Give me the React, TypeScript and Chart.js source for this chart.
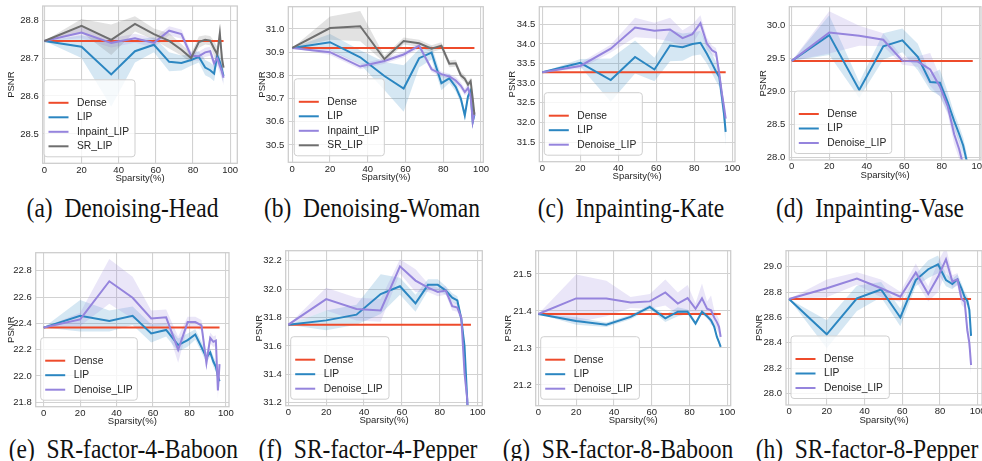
import React, { useEffect, useRef } from 'react';
import { Chart, registerables } from 'chart.js';
Chart.register(...registerables);

// ---------- shared axis data ----------
const SPARSITY = [0, 20, 36, 48.8, 59, 67.2, 73.8, 79, 83.2, 86.6, 89.3, 91.4, 93.1, 94.5, 95.6, 96.5];
const X_TICKS = [0, 20, 40, 60, 80, 100];

// ---------- (a) Denoising-Head ----------
const A_YTICKS = [28.5, 28.6, 28.7, 28.8];
const A_DENSE = 28.745;
const A_LIP = [28.745, 28.73, 28.657, 28.718, 28.735, 28.69, 28.687, 28.695, 28.703, 28.675, 28.668, 28.659, 28.707, 28.69, 28.67, 28.653];
const A_LIP_CI = [0, 0.03, 0.085, 0.03, 0.02, 0.025, 0.02, 0.015, 0.015, 0.02, 0.02, 0.02, 0.02, 0.02, 0.02, 0.02];
const A_INP = [28.745, 28.767, 28.74, 28.752, 28.74, 28.772, 28.763, 28.706, 28.705, 28.715, 28.718, 28.686, 28.7, 28.68, 28.665, 28.648];
const A_INP_CI = [0, 0.015, 0.012, 0.012, 0.012, 0.012, 0.012, 0.012, 0.012, 0.012, 0.012, 0.015, 0.02, 0.02, 0.02, 0.02];
const A_SR = [28.745, 28.785, 28.748, 28.79, 28.763, 28.745, 28.722, 28.7, 28.742, 28.748, 28.746, 28.725, 28.71, 28.765, 28.7, 28.675];
const A_SR_CI = [0, 0.018, 0.04, 0.02, 0.015, 0.02, 0.015, 0.012, 0.015, 0.012, 0.012, 0.02, 0.02, 0.025, 0.025, 0.02];

// ---------- (b) Denoising-Woman ----------
const B_YTICKS = [30.5, 30.6, 30.7, 30.8, 30.9, 31.0];
const B_DENSE = 30.918;
const B_LIP = [30.918, 30.943, 30.878, 30.797, 30.743, 30.874, 30.898, 30.766, 30.787, 30.75, 30.7, 30.627, 30.71, 30.735, 30.6, 30.63];
const B_LIP_CI = [0, 0.035, 0.03, 0.06, 0.1, 0.04, 0.03, 0.03, 0.02, 0.02, 0.02, 0.02, 0.02, 0.02, 0.02, 0.02];
const B_INP = [30.918, 30.9, 30.838, 30.862, 30.89, 30.928, 30.826, 30.805, 30.795, 30.778, 30.755, 30.728, 30.745, 30.71, 30.6, 30.64];
const B_INP_CI = [0, 0.012, 0.012, 0.012, 0.012, 0.012, 0.012, 0.012, 0.012, 0.015, 0.015, 0.015, 0.02, 0.02, 0.02, 0.02];
const B_SR = [30.918, 31.004, 31.012, 30.87, 30.948, 30.938, 30.915, 30.928, 30.85, 30.852, 30.8, 30.785, 30.76, 30.775, 30.7, 30.63];
const B_SR_CI = [0, 0.05, 0.065, 0.015, 0.015, 0.015, 0.015, 0.015, 0.015, 0.015, 0.015, 0.015, 0.015, 0.015, 0.02, 0.02];

// ---------- (c) Inpainting-Kate ----------
const C_YTICKS = [31.5, 32.0, 32.5, 33.0, 33.5, 34.0, 34.5];
const C_DENSE = 33.28;
const C_LIP = [33.28, 33.52, 33.08, 33.67, 33.35, 33.96, 33.92, 34.0, 34.03, 33.75, 33.5, 33.3, 33.16, 32.65, 32.23, 31.76];
const C_LIP_CI = [0, 0.1, 0.55, 0.42, 0.3, 0.4, 0.35, 0.3, 0.3, 0.25, 0.25, 0.25, 0.25, 0.25, 0.3, 0.35];
const C_DEN = [33.28, 33.44, 33.88, 34.42, 34.34, 34.37, 34.15, 34.25, 34.53, 34.01, 33.84, 33.78, 33.25, 32.74, 32.4, 32.1];
const C_DEN_CI = [0, 0.08, 0.1, 0.25, 0.2, 0.3, 0.2, 0.25, 0.2, 0.15, 0.12, 0.12, 0.15, 0.15, 0.15, 0.15];

// ---------- (d) Inpainting-Vase ----------
const D_YTICKS = [28.0, 28.5, 29.0, 29.5, 30.0];
const D_DENSE = 29.46;
const D_LIP = [29.46, 29.85, 29.02, 29.68, 29.77, 29.52, 29.14, 29.13, 28.83, 28.55, 28.35, 28.18, 27.97, 27.7, 27.35, 27.0];
const D_LIP_CI = [0, 0.3, 0.12, 0.2, 0.18, 0.2, 0.12, 0.2, 0.15, 0.12, 0.12, 0.12, 0.12, 0.15, 0.15, 0.15];
const D_DEN = [29.46, 29.89, 29.84, 29.78, 29.46, 29.45, 29.33, 29.07, 28.77, 28.35, 28.12, 27.88, 27.55, 27.25, 27.0, 26.8];
const D_DEN_CI = [0, 0.32, 0.15, 0.1, 0.06, 0.08, 0.25, 0.15, 0.12, 0.15, 0.15, 0.15, 0.15, 0.15, 0.15, 0.15];

// ---------- (e) SR-factor-4-Baboon ----------
const E_YTICKS = [21.8, 22.0, 22.2, 22.4, 22.6, 22.8];
const E_DENSE = 22.368;
const E_LIP = [22.368, 22.458, 22.418, 22.458, 22.324, 22.35, 22.235, 22.273, 22.316, 22.22, 22.14, 22.18, 22.11, 22.07, 22.0, 21.96];
const E_LIP_CI = [0, 0.12, 0.08, 0.07, 0.07, 0.05, 0.05, 0.05, 0.04, 0.04, 0.04, 0.03, 0.04, 0.04, 0.05, 0.05];
const E_DEN = [22.368, 22.43, 22.72, 22.595, 22.438, 22.446, 22.2, 22.41, 22.41, 22.385, 22.1, 22.29, 22.26, 22.27, 21.89, 22.09];
const E_DEN_CI = [0, 0.05, 0.17, 0.16, 0.06, 0.06, 0.1, 0.04, 0.04, 0.04, 0.06, 0.04, 0.04, 0.04, 0.06, 0.05];

// ---------- (f) SR-factor-4-Pepper ----------
const F_YTICKS = [31.2, 31.4, 31.6, 31.8, 32.0, 32.2];
const F_DENSE = 31.75;
const F_LIP = [31.75, 31.78, 31.82, 31.965, 32.02, 31.9, 32.03, 32.03, 31.99, 31.94, 31.92, 31.79, 31.6, 31.23, 30.9, 30.7];
const F_LIP_CI = [0, 0.07, 0.07, 0.14, 0.06, 0.06, 0.04, 0.04, 0.03, 0.03, 0.03, 0.03, 0.04, 0.05, 0.05, 0.05];
const F_DEN = [31.75, 31.93, 31.86, 31.85, 32.16, 32.06, 32.01, 31.98, 31.99, 31.88, 31.87, 31.8, 31.41, 31.23, 30.9, 30.7];
const F_DEN_CI = [0, 0.08, 0.08, 0.08, 0.05, 0.08, 0.03, 0.03, 0.03, 0.03, 0.03, 0.03, 0.05, 0.05, 0.05, 0.05];

// ---------- (g) SR-factor-8-Baboon ----------
const G_YTICKS = [21.2, 21.3, 21.4, 21.5];
const G_DENSE = 21.392;
const G_LIP = [21.392, 21.373, 21.363, 21.384, 21.411, 21.38, 21.398, 21.398, 21.366, 21.398, 21.386, 21.375, 21.357, 21.33, 21.316, 21.303];
const G_LIP_CI = [0, 0.01, 0.006, 0.006, 0.006, 0.01, 0.012, 0.006, 0.006, 0.006, 0.006, 0.006, 0.006, 0.006, 0.006, 0.006];
const G_DEN = [21.392, 21.434, 21.434, 21.423, 21.426, 21.45, 21.42, 21.435, 21.406, 21.434, 21.406, 21.402, 21.382, 21.37, 21.357, 21.33];
const G_DEN_CI = [0, 0.065, 0.048, 0.015, 0.02, 0.035, 0.03, 0.035, 0.015, 0.04, 0.02, 0.04, 0.02, 0.02, 0.02, 0.02];

// ---------- (h) SR-factor-8-Pepper ----------
const H_YTICKS = [28.0, 28.2, 28.4, 28.6, 28.8, 29.0];
const H_DENSE = 28.745;
const H_LIP = [28.745, 28.467, 28.75, 28.82, 28.6, 28.895, 28.98, 29.018, 28.895, 28.863, 28.9, 28.83, 28.76, 28.73, 28.66, 28.455];
const H_LIP_CI = [0, 0.11, 0.1, 0.06, 0.07, 0.05, 0.07, 0.07, 0.05, 0.04, 0.04, 0.04, 0.04, 0.04, 0.05, 0.06];
const H_DEN = [28.745, 28.83, 28.907, 28.83, 28.763, 28.955, 28.785, 28.92, 29.058, 28.883, 28.9, 28.75, 28.724, 28.5, 28.4, 28.225];
const H_DEN_CI = [0, 0.07, 0.05, 0.07, 0.04, 0.07, 0.06, 0.12, 0.1, 0.05, 0.05, 0.05, 0.05, 0.06, 0.07, 0.08];

// ---------- styles ----------
const RED = '#ee4b2b';
const BLUE = '#2b86c1';
const PURPLE = '#9584dd';
const GRAY = '#6e6e6e';
const GRID = '#d2d2d2';
const FRAME = '#cccccc';
const TEXT = '#262626';
const SANS = '"Liberation Sans", Arial, sans-serif';
const TITLE_SIZE = 9.5;
const TITLE_LH = TITLE_SIZE * 1.2;

type Series = { label: string; color: string; mean: number[]; ci: number[] };
type PanelCfg = {
  tag: string; name: string;
  L: number; T: number; R: number; B: number;
  xMin: number; xMax: number; yMin: number; yMax: number; yTicks: number[];
  dense: number; series: Series[];
  ytd: number; legendDx: number; legendW: number;
  capX: number; capBase: number;
};

const TOP_BASE = 218.3;
const BOT_BASE = 458.5;

const PANELS: PanelCfg[] = [
  { tag: '(a)', name: 'Denoising-Head', L: 42.7, T: 6, R: 237.3, B: 163.3, xMin: -0.9, xMax: 103.9, yMin: 28.423, yMax: 28.837, yTicks: A_YTICKS, dense: A_DENSE,
    series: [{ label: 'LIP', color: BLUE, mean: A_LIP, ci: A_LIP_CI }, { label: 'Inpaint_LIP', color: PURPLE, mean: A_INP, ci: A_INP_CI }, { label: 'SR_LIP', color: GRAY, mean: A_SR, ci: A_SR_CI }],
    ytd: 31.4, legendDx: 1.3, legendW: 91, capX: 122.5, capBase: TOP_BASE },
  { tag: '(b)', name: 'Denoising-Woman', L: 288.3, T: 6.7, R: 483.3, B: 162.3, xMin: -2.1, xMax: 101.2, yMin: 30.425, yMax: 31.096, yTicks: B_YTICKS, dense: B_DENSE,
    series: [{ label: 'LIP', color: BLUE, mean: B_LIP, ci: B_LIP_CI }, { label: 'Inpaint_LIP', color: PURPLE, mean: B_INP, ci: B_INP_CI }, { label: 'SR_LIP', color: GRAY, mean: B_SR, ci: B_SR_CI }],
    ytd: 26, legendDx: 6, legendW: 90, capX: 372, capBase: TOP_BASE },
  { tag: '(c)', name: 'Inpainting-Kate', L: 539.3, T: 6.7, R: 735, B: 161.7, xMin: -1.6, xMax: 101.4, yMin: 31.0, yMax: 34.95, yTicks: C_YTICKS, dense: C_DENSE,
    series: [{ label: 'LIP', color: BLUE, mean: C_LIP, ci: C_LIP_CI }, { label: 'Denoise_LIP', color: PURPLE, mean: C_DEN, ci: C_DEN_CI }],
    ytd: 26.6, legendDx: 5, legendW: 98, capX: 631, capBase: TOP_BASE },
  { tag: '(d)', name: 'Inpainting-Vase', L: 789.3, T: 6.7, R: 981, B: 160, xMin: -1.3, xMax: 100.9, yMin: 27.96, yMax: 30.28, yTicks: D_YTICKS, dense: D_DENSE,
    series: [{ label: 'LIP', color: BLUE, mean: D_LIP, ci: D_LIP_CI }, { label: 'Denoise_LIP', color: PURPLE, mean: D_DEN, ci: D_DEN_CI }],
    ytd: 26, legendDx: 5, legendW: 97.4, capX: 870, capBase: TOP_BASE },
  { tag: '(e)', name: 'SR-factor-4-Baboon', L: 35.7, T: 252.7, R: 229, B: 406.7, xMin: -4.4, xMax: 101.7, yMin: 21.767, yMax: 22.937, yTicks: E_YTICKS, dense: E_DENSE,
    series: [{ label: 'LIP', color: BLUE, mean: E_LIP, ci: E_LIP_CI }, { label: 'Denoise_LIP', color: PURPLE, mean: E_DEN, ci: E_DEN_CI }],
    ytd: 24.7, legendDx: 5, legendW: 96.6, capX: 123.3, capBase: BOT_BASE },
  { tag: '(f)', name: 'SR-factor-4-Pepper', L: 285.7, T: 250.7, R: 482.3, B: 405.7, xMin: -1.4, xMax: 102.5, yMin: 31.18, yMax: 32.27, yTicks: F_YTICKS, dense: F_DENSE,
    series: [{ label: 'LIP', color: BLUE, mean: F_LIP, ci: F_LIP_CI }, { label: 'Denoise_LIP', color: PURPLE, mean: F_DEN, ci: F_DEN_CI }],
    ytd: 26.4, legendDx: 5, legendW: 98.3, capX: 368, capBase: BOT_BASE },
  { tag: '(g)', name: 'SR-factor-8-Baboon', L: 535.7, T: 250.7, R: 730.7, B: 405.7, xMin: -1.4, xMax: 101.8, yMin: 21.144, yMax: 21.563, yTicks: G_YTICKS, dense: G_DENSE,
    series: [{ label: 'LIP', color: BLUE, mean: G_LIP, ci: G_LIP_CI }, { label: 'Denoise_LIP', color: PURPLE, mean: G_DEN, ci: G_DEN_CI }],
    ytd: 27, legendDx: 5, legendW: 98.7, capX: 618, capBase: BOT_BASE },
  { tag: '(h)', name: 'SR-factor-8-Pepper', L: 786, T: 250.7, R: 982, B: 405, xMin: -1.6, xMax: 102.3, yMin: 27.91, yMax: 29.126, yTicks: H_YTICKS, dense: H_DENSE,
    series: [{ label: 'LIP', color: BLUE, mean: H_LIP, ci: H_LIP_CI }, { label: 'Denoise_LIP', color: PURPLE, mean: H_DEN, ci: H_DEN_CI }],
    ytd: 27, legendDx: 5, legendW: 98.3, capX: 867, capBase: BOT_BASE },
];

function rgba(hex: string, a: number) {
  const n = parseInt(hex.slice(1), 16);
  return `rgba(${(n >> 16) & 255},${(n >> 8) & 255},${n & 255},${a})`;
}

const pts = (arr: number[]) => SPARSITY.map((x, i) => ({ x, y: arr[i] }));

function Panel({ p }: { p: PanelCfg }) {
  const ref = useRef<HTMLCanvasElement>(null);
  const canvasLeft = Math.floor(p.L - p.ytd - TITLE_LH / 2);
  const canvasTop = Math.floor(p.T - 6);
  const canvasRight = Math.ceil(p.R + 12);
  const canvasBottom = Math.ceil(p.B + 22);
  const W = canvasRight - canvasLeft;
  const H = canvasBottom - canvasTop;

  useEffect(() => {
    if (!ref.current) return;
    const yW = p.L - canvasLeft;
    const xH = canvasBottom - p.B;
    const ytPad = Math.max(0, p.L - p.ytd - canvasLeft - TITLE_LH / 2);
    const xtPad = Math.max(0, canvasBottom - (p.B + 15) - TITLE_LH / 2);

    const lines: any[] = [];
    const bands: any[] = [];
    lines.push({ label: 'Dense', data: SPARSITY.map((x) => ({ x, y: p.dense })), borderColor: RED, borderWidth: 2, pointRadius: 0, fill: false, order: 10 });
    p.series.forEach((s, k) => {
      lines.push({ label: s.label, data: pts(s.mean), borderColor: s.color, borderWidth: 2, pointRadius: 0, fill: false, order: 9 - k });
    });
    p.series.forEach((s, k) => {
      const hi = s.mean.map((m, i) => m + s.ci[i]);
      const lo = s.mean.map((m, i) => m - s.ci[i]);
      bands.push({ label: s.label + '_hi', data: pts(hi), borderColor: 'rgba(0,0,0,0)', borderWidth: 0, pointRadius: 0, fill: '+1', backgroundColor: rgba(s.color, 0.2), order: 30 - k });
      bands.push({ label: s.label + '_lo', data: pts(lo), borderColor: 'rgba(0,0,0,0)', borderWidth: 0, pointRadius: 0, fill: false, order: 30 - k });
    });

    const legendItems = [{ label: 'Dense', color: RED }, ...p.series.map((s) => ({ label: s.label, color: s.color }))];

    const overlay = {
      id: 'overlay',
      afterDatasetsDraw(chart: any) {
        const { ctx, chartArea: a } = chart;
        ctx.save();
        ctx.strokeStyle = FRAME;
        ctx.lineWidth = 1.25;
        ctx.strokeRect(a.left, a.top, a.right - a.left, a.bottom - a.top);
        const n = legendItems.length;
        const h = 23 + (n - 1) * 14.5 + 10.5;
        const x0 = a.left + p.legendDx;
        const y0 = a.bottom - 6.5 - h;
        ctx.beginPath();
        if (ctx.roundRect) ctx.roundRect(x0, y0, p.legendW, h, 3);
        else ctx.rect(x0, y0, p.legendW, h);
        ctx.fillStyle = 'rgba(255,255,255,0.8)';
        ctx.fill();
        ctx.strokeStyle = '#cfcfcf';
        ctx.lineWidth = 1;
        ctx.stroke();
        ctx.font = `10.3px ${SANS}`;
        ctx.textBaseline = 'middle';
        ctx.textAlign = 'left';
        legendItems.forEach((it, i) => {
          const y = y0 + 23 + i * 14.5;
          ctx.strokeStyle = it.color;
          ctx.lineWidth = 2;
          ctx.beginPath();
          ctx.moveTo(x0 + 4.5, y);
          ctx.lineTo(x0 + 24.5, y);
          ctx.stroke();
          ctx.fillStyle = TEXT;
          ctx.fillText(it.label, x0 + 33, y);
        });
        ctx.restore();
      },
    };

    const chart = new Chart(ref.current, {
      type: 'line',
      data: { datasets: [...lines, ...bands] },
      options: {
        animation: false,
        responsive: false,
        maintainAspectRatio: false,
        devicePixelRatio: 1,
        events: [],
        layout: { padding: { top: p.T - canvasTop, right: canvasRight - p.R, left: 0, bottom: 0 } },
        plugins: { legend: { display: false }, tooltip: { enabled: false } },
        elements: { line: { tension: 0 } },
        scales: {
          x: {
            type: 'linear',
            min: p.xMin,
            max: p.xMax,
            afterBuildTicks: (s: any) => { s.ticks = X_TICKS.map((v) => ({ value: v })); },
            afterFit: (s: any) => { s.height = xH; s.paddingLeft = 0; s.paddingRight = 0; },
            grid: { color: GRID, lineWidth: 1.1, drawTicks: false },
            border: { display: false },
            ticks: { color: TEXT, font: { family: SANS, size: 9.5 }, padding: 1, autoSkip: false, maxRotation: 0, callback: (v: any) => String(v) },
            title: { display: true, text: 'Sparsity(%)', color: TEXT, font: { family: SANS, size: TITLE_SIZE }, padding: { top: 0, bottom: xtPad } },
          },
          y: {
            type: 'linear',
            min: p.yMin,
            max: p.yMax,
            afterBuildTicks: (s: any) => { s.ticks = p.yTicks.map((v) => ({ value: v })); },
            afterFit: (s: any) => { s.width = yW; s.paddingTop = 0; s.paddingBottom = 0; },
            grid: { color: GRID, lineWidth: 1.1, drawTicks: false },
            border: { display: false },
            ticks: { color: TEXT, font: { family: SANS, size: 9.5 }, padding: 4, autoSkip: false, callback: (v: any) => Number(v).toFixed(1) },
            title: { display: true, text: 'PSNR', color: TEXT, font: { family: SANS, size: TITLE_SIZE }, padding: { top: ytPad, bottom: 0 } },
          },
        },
      } as any,
      plugins: [overlay],
    });
    return () => chart.destroy();
  }, []);

  return (
    <canvas
      ref={ref}
      width={W}
      height={H}
      style={{ position: 'absolute', left: canvasLeft, top: canvasTop, width: W, height: H }}
    />
  );
}

function Caption({ p }: { p: PanelCfg }) {
  const size = 23.5;
  return (
    <div
      style={{
        position: 'absolute',
        left: p.capX - 200,
        width: 400,
        top: p.capBase - 20.9,
        height: size,
        lineHeight: `${size}px`,
        fontSize: size,
        fontFamily: '"Liberation Serif", "Times New Roman", serif',
        color: '#111',
        textAlign: 'center',
        whiteSpace: 'pre',
        transform: 'scaleY(1.15)',
      }}
    >
      {`${p.tag}  ${p.name}`}
    </div>
  );
}

export default function App() {
  return (
    <div style={{ position: 'absolute', left: 0, top: 0, width: 982, height: 461, overflow: 'hidden', background: '#fff' }}>
      {PANELS.map((p) => (
        <React.Fragment key={p.tag}>
          <Panel p={p} />
          <Caption p={p} />
        </React.Fragment>
      ))}
    </div>
  );
}
